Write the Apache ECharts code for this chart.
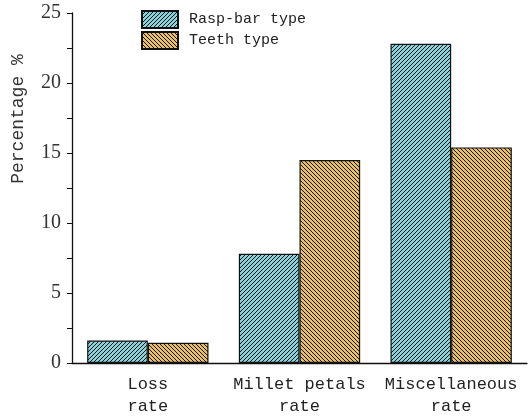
<!DOCTYPE html>
<html><head><meta charset="utf-8">
<script src="https://cdn.jsdelivr.net/npm/echarts@6/dist/echarts.min.js"></script>
<style>html,body{margin:0;padding:0;background:#fff}#c{width:530px;height:417px}</style>
</head><body><div id="c"></div>
<script>
const categories = ['Loss\nrate', 'Millet petals\nrate', 'Miscellaneous\nrate'];
const seriesNames = ['Rasp-bar type', 'Teeth type'];
const raspBar = [1.6, 7.8, 22.8];
const teeth = [1.45, 14.5, 15.4];
const yTicks = [0, 5, 10, 15, 20, 25];

function hatch(bg, dir, size) {
  const c = document.createElement('canvas');
  c.width = size; c.height = size;
  const g = c.getContext('2d');
  g.fillStyle = bg; g.fillRect(0, 0, size, size);
  g.fillStyle = '#111';
  for (let i = 0; i < size; i++) {
    const y = dir > 0 ? size - 1 - i : i;
    g.fillRect(i, y, 1, 1);
  }
  return { image: c, repeat: 'repeat' };
}
const blueFill = hatch('#86d5de', 1, 4);
const yellowFill = hatch('#e9c164', -1, 4);

const chart = echarts.init(document.getElementById('c'), null, {renderer: 'canvas'});
chart.setOption({
  animation: false,
  backgroundColor: '#fff',
  grid: { left: 72, right: 3, top: 13, bottom: 54 },
  legend: {
    orient: 'vertical', left: 136, top: 5, itemWidth: 36, itemHeight: 17, itemGap: 2,
    icon: 'rect',
    data: seriesNames,
    textStyle: { fontFamily: 'Liberation Mono', fontSize: 15, color: '#222', padding: [0,0,0,6] }
  },
  graphic: [{
    type: 'text', x: 18, y: 119, rotation: Math.PI/2,
    style: { text: 'Percentage %', fontFamily: 'Liberation Mono', fontSize: 18, fill: '#333',
             textAlign: 'center', textVerticalAlign: 'middle' }
  }],
  xAxis: [{
    type: 'category', data: categories,
    axisLine: { lineStyle: { color: '#111', width: 1.3 } },
    axisTick: { alignWithLabel: true, length: 6, lineStyle: { color: '#111' } },
    axisLabel: { fontFamily: 'Liberation Mono', fontSize: 17, color: '#222', lineHeight: 22, margin: 10, interval: 0 }
  }, {
    type: 'category', data: categories, position: 'bottom',
    axisLine: { show: false },
    axisTick: { length: 3, lineStyle: { color: '#111' } },
    axisLabel: { show: false }
  }],
  yAxis: {
    type: 'value', min: yTicks[0], max: yTicks[yTicks.length-1], interval: 5,
    axisLine: { show: true, lineStyle: { color: '#111', width: 1.3 } },
    axisTick: { show: true, length: 5, lineStyle: { color: '#111' } },
    minorTick: { show: true, splitNumber: 2, length: 5, lineStyle: { color: '#111' } },
    splitLine: { show: false },
    axisLabel: { fontFamily: 'Liberation Serif', fontSize: 20, color: '#333', margin: 11 }
  },
  series: [{
    name: seriesNames[0], type: 'bar', data: raspBar, barGap: '0%', barCategoryGap: '20%',
    itemStyle: { color: blueFill, borderColor: '#111', borderWidth: 1.2 }
  }, {
    name: seriesNames[1], type: 'bar', data: teeth, barGap: '0%', barCategoryGap: '20%',
    itemStyle: { color: yellowFill, borderColor: '#111', borderWidth: 1.2 }
  }]
});
</script></body></html>
